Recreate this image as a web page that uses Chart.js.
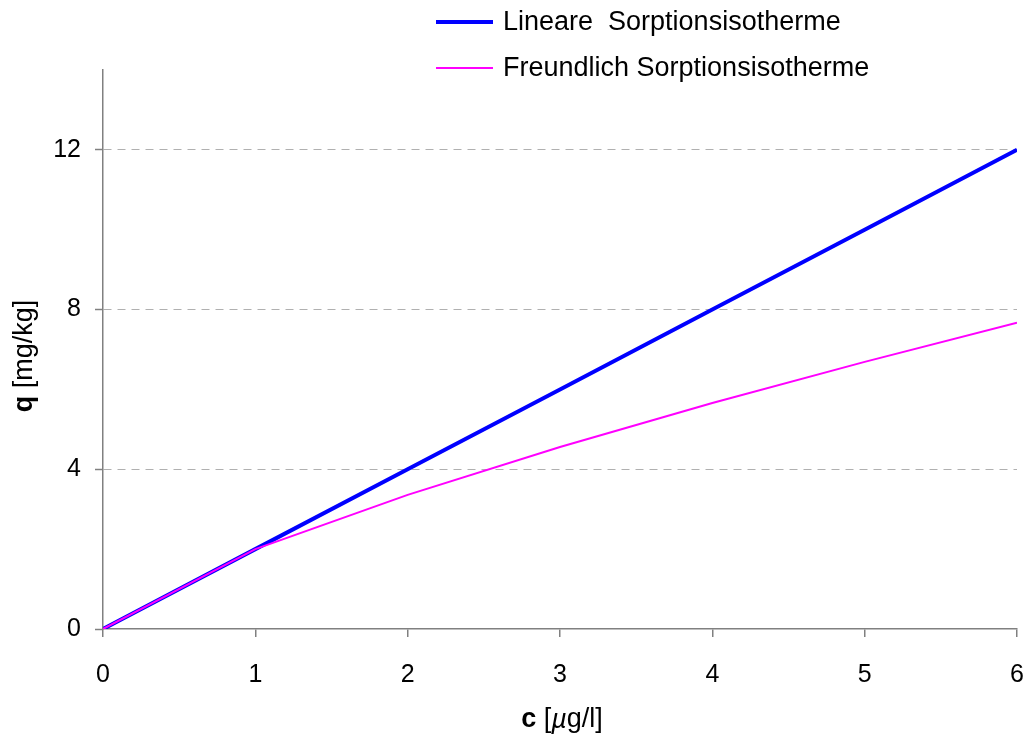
<!DOCTYPE html>
<html>
<head>
  <meta charset="utf-8">
  <script src="https://cdn.jsdelivr.net/npm/chart.js"></script>
  <style>
    body { margin: 0; background: #fff; }
  </style>
</head>
<body>
  <canvas id="isoChart" width="1029" height="738"></canvas>
  <script>
    // concentration c [µg/l]
    const concentrations = [0, 1, 2, 3, 4, 5, 6];
    // sorbed amount q [mg/kg]
    const linearQ = [0, 2, 4, 6, 8, 10, 12];
    const freundlichQ = [0, 2.0, 3.36, 4.56, 5.66, 6.69, 7.67];
    const yTicks = [0, 4, 8, 12];
    const seriesNames = ['Lineare  Sorptionsisotherme', 'Freundlich Sorptionsisotherme'];

    const FONT = '"Liberation Sans", Arial, Helvetica, sans-serif';
    const AXIS_GRAY = '#808080';

    function toPoints(ys) {
      return concentrations.map((c, i) => ({ x: c, y: ys[i] }));
    }

    // legend and the mixed-style axis titles are painted by hand
    const decorations = {
      id: 'decorations',
      afterDraw(chart) {
        const ctx = chart.ctx;
        ctx.save();
        ctx.textBaseline = 'middle';
        ctx.fillStyle = '#000';

        // legend
        const items = [
          { color: '#0000ff', width: 4, y: 22 },
          { color: '#ff00ff', width: 2, y: 68 }
        ];
        items.forEach((it, i) => {
          ctx.strokeStyle = it.color;
          ctx.lineWidth = it.width;
          ctx.beginPath();
          ctx.moveTo(436, it.y);
          ctx.lineTo(493, it.y);
          ctx.stroke();
          ctx.font = '27px ' + FONT;
          ctx.textAlign = 'left';
          ctx.fillText(seriesNames[i], 503, it.y + 1);
        });

        // x title: c [µg/l]
        const xParts = [
          { t: 'c', f: 'bold 27px ' + FONT },
          { t: ' [', f: '27px ' + FONT },
          { t: 'µ', f: 'italic 27px ' + FONT },
          { t: 'g/l]', f: '27px ' + FONT }
        ];
        drawParts(ctx, xParts, 562, 720);

        // y title: q [mg/kg]
        ctx.translate(25, 356);
        ctx.rotate(-Math.PI / 2);
        const yParts = [
          { t: 'q', f: 'bold 27px ' + FONT },
          { t: ' [mg/kg]', f: '27px ' + FONT }
        ];
        drawParts(ctx, yParts, 0, 0);
        ctx.restore();
      }
    };

    function drawParts(ctx, parts, cx, cy) {
      let total = 0;
      parts.forEach(p => { ctx.font = p.f; total += ctx.measureText(p.t).width; });
      let x = cx - total / 2;
      ctx.textAlign = 'left';
      parts.forEach(p => {
        ctx.font = p.f;
        ctx.fillText(p.t, x, cy);
        x += ctx.measureText(p.t).width;
      });
    }

    const ctx = document.getElementById('isoChart').getContext('2d');
    new Chart(ctx, {
      type: 'line',
      data: {
        datasets: [{
          label: seriesNames[0],
          data: toPoints(linearQ),
          borderColor: '#0000ff',
          borderWidth: 4,
          pointRadius: 0,
          order: 2
        }, {
          label: seriesNames[1],
          data: toPoints(freundlichQ),
          borderColor: '#ff00ff',
          borderWidth: 2,
          pointRadius: 0,
          order: 1
        }]
      },
      options: {
        responsive: false,
        animation: false,
        layout: { padding: { top: 70, right: 12, left: 0, bottom: 0 } },
        plugins: {
          legend: { display: false },
          tooltip: { enabled: false }
        },
        scales: {
          x: {
            type: 'linear',
            min: 0,
            max: 6,
            ticks: {
              stepSize: 1,
              color: '#000',
              font: { family: FONT, size: 25 },
              padding: 23,
              maxRotation: 0
            },
            grid: {
              drawOnChartArea: false,
              tickLength: 8,
              tickColor: AXIS_GRAY,
              lineWidth: 1.5
            },
            border: { color: AXIS_GRAY, width: 1.5 },
            afterFit(scale) {
              scale.height = 109;
              scale.paddingLeft = 0;
              scale.paddingRight = 0;
            }
          },
          y: {
            type: 'linear',
            min: 0,
            max: 14,
            afterBuildTicks(scale) {
              scale.ticks = yTicks.map(v => ({ value: v }));
            },
            ticks: {
              color: '#000',
              font: { family: FONT, size: 25 },
              padding: 14
            },
            grid: {
              color: ctx => ctx.tick && ctx.tick.value === 0 ? 'rgba(0,0,0,0)' : '#b0b0b0',
              tickBorderDash: [],
              tickLength: 8,
              tickColor: AXIS_GRAY,
              tickWidth: 1.5,
              lineWidth: 1
            },
            border: { color: AXIS_GRAY, width: 1.5, dash: [8, 6] },
            afterFit(scale) {
              scale.width = 103;
              scale.paddingTop = 0;
              scale.paddingBottom = 0;
            }
          }
        }
      },
      plugins: [decorations]
    });
  </script>
</body>
</html>
